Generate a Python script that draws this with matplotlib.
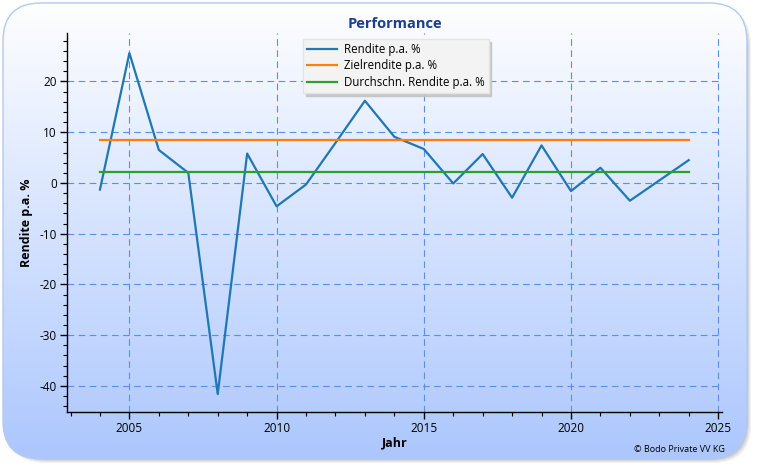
import numpy as np
import matplotlib
matplotlib.use("Agg")
import matplotlib.pyplot as plt
from matplotlib.patches import FancyBboxPatch
from matplotlib.ticker import MultipleLocator

years = [2004, 2005, 2006, 2007, 2008, 2009, 2010, 2011, 2012, 2013, 2014,
         2015, 2016, 2017, 2018, 2019, 2020, 2021, 2022, 2023, 2024]
rendite = [-1.3, 25.6, 6.5, 2.0, -41.6, 5.8, -4.6, -0.3, 7.9, 16.2, 9.1,
           6.7, -0.1, 5.7, -2.9, 7.4, -1.6, 3.0, -3.5, 0.5, 4.5]
ziel = 8.5
durchschnitt = 2.1

title = "Performance"
xlabel = "Jahr"
ylabel = "Rendite p.a. %"
labels = ["Rendite p.a. %", "Zielrendite p.a. %", "Durchschn. Rendite p.a. %"]
copyright_text = "© Bodo Private VV KG"

plt.rcParams['font.family'] = ['Open Sans', 'DejaVu Sans']
plt.rcParams['axes.unicode_minus'] = False

W, H = 763, 466
fig = plt.figure(figsize=(W / 100, H / 100), dpi=100)

# background panel
bg = fig.add_axes([0, 0, 1, 1])
bg.set_xlim(0, W)
bg.set_ylim(H, 0)
bg.axis('off')
for i, a in enumerate([0.05, 0.05, 0.06, 0.07]):
    sh = FancyBboxPatch((4 + 3 + i, 4 + 3 + i), 744 - 2 * i, 456 - 2 * i,
                        boxstyle="round,pad=0,rounding_size=38",
                        fc=(0, 0, 0, a), ec='none', zorder=0)
    bg.add_patch(sh)
box = FancyBboxPatch((3, 3), 744, 456, boxstyle="round,pad=0,rounding_size=38",
                     fc='none', ec='#b4c8f4', lw=1.0, zorder=3)
bg.add_patch(box)
grad = np.linspace(0, 1, 256).reshape(-1, 1)
top = np.array([0.995, 0.997, 1.0])
bot = np.array([0.675, 0.780, 0.995])
img = top[None, None, :] * (1 - grad[:, :, None]) + bot[None, None, :] * grad[:, :, None]
im = bg.imshow(img, extent=(3, 747, 459, 3), aspect='auto', zorder=1)
clip = FancyBboxPatch((3, 3), 744, 456, boxstyle="round,pad=0,rounding_size=38",
                      fc='none', ec='none', transform=bg.transData)
bg.add_patch(clip)
im.set_clip_path(clip)

ax = fig.add_axes([66.7 / W, 1 - 412.3 / H, (722.3 - 66.7) / W, (412.3 - 33.3) / H])
ax.patch.set_alpha(0)
ax.plot(years, rendite, color='#1f77b4', lw=1.6, label=labels[0], zorder=3)
ax.plot([years[0], years[-1]], [ziel, ziel], color='#ff7f0e', lw=1.6, label=labels[1], zorder=3)
ax.plot([years[0], years[-1]], [durchschnitt, durchschnitt], color='#2ca02c', lw=1.6,
        label=labels[2], zorder=3)

ax.set_xlim(2002.87, 2025.14)
ax.set_ylim(-45.2, 29.5)
ax.xaxis.set_major_locator(MultipleLocator(5))
ax.xaxis.set_minor_locator(MultipleLocator(1))
ax.yaxis.set_major_locator(MultipleLocator(10))
ax.yaxis.set_minor_locator(MultipleLocator(2))
ax.grid(True, which='major', color='#5b8fe6', ls=(0, (6, 4)), lw=0.8)
for s in ['top', 'right']:
    ax.spines[s].set_visible(False)
for s in ['left', 'bottom']:
    ax.spines[s].set_linewidth(1.0)
ax.tick_params(which='major', length=5, width=1.0, labelsize=8.5, colors='black', pad=2)
ax.tick_params(which='minor', length=3, width=0.8)
ax.set_title(title, fontsize=10.5, fontweight='bold', color='#1c3f8c', pad=4)
ax.set_xlabel(xlabel, fontsize=9, fontweight='bold', labelpad=1)
ax.set_ylabel(ylabel, fontsize=9, fontweight='bold', labelpad=5)

leg = ax.legend(loc='upper left', bbox_to_anchor=((303 - 66.7) / (722.3 - 66.7), 1 - (39 - 33.3) / (412.3 - 33.3)),
                fontsize=8.3, frameon=True, fancybox=False,
                shadow={'color': '#c4c4c4', 'alpha': 0.9},
                borderaxespad=0, handlelength=2.6, labelspacing=0.3, borderpad=0.35,
                handletextpad=0.6)
leg.get_frame().set_facecolor('#f3f3f3')
leg.get_frame().set_edgecolor('#e4e4e4')
leg.get_frame().set_alpha(1)

fig.text(725 / W, 1 - 450 / H, copyright_text, fontsize=6.5, ha='right', va='center')

fig.savefig("out.png", dpi=100)
